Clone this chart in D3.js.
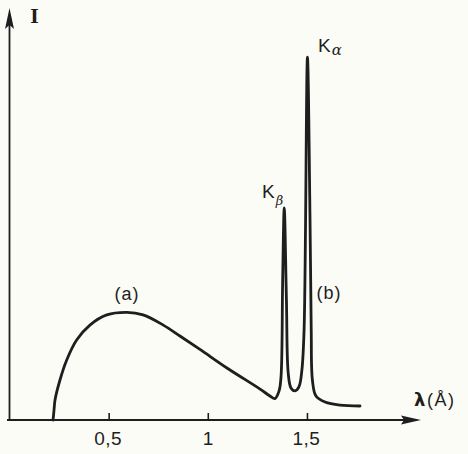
<!DOCTYPE html>
<html><head><meta charset="utf-8">
<script src="https://cdn.jsdelivr.net/npm/d3@7"></script>
<style>
html,body{margin:0;padding:0;background:#fcfcf7;}
svg{display:block;}
text{fill:#1e1e1e;}
</style></head>
<body>
<svg id="chart" width="468" height="454"></svg>
<script>
// wavelength (Å)
const lambda = [0.217,0.222,0.227,0.252,0.286,0.336,0.403,0.488,0.590,0.671,0.773,0.857,0.958,1.094,1.261,1.311,1.336,1.357,1.367,1.375,1.383,1.394,1.403,1.417,1.437,1.457,1.472,1.483,1.500,1.513,1.519,1.525,1.543,1.589,1.664,1.765];
// intensity (arbitrary units)
const intensity = [0,2.75,5.5,11,16.5,22,26.1,28.9,29.6,28.9,26.1,23.1,19.4,14.3,8.5,6.6,5.9,8.0,12.1,38.5,58.3,33.0,12.9,8.8,8.0,9.1,13.75,24.75,99.8,55,24.75,11,6.6,4.95,4.1,3.85];
const tickValues = [0.5, 1, 1.5];
const tickLabels = ["0,5", "1", "1,5"];

const svg = d3.select("#chart");
const x = d3.scaleLinear().domain([0, 2]).range([10, 406.6]);
const y = d3.scaleLinear().domain([0, 110]).range([420, 20]);
const ink = "#1e1e1e";

// x axis
svg.append("line").attr("x1", 7).attr("x2", 404).attr("y1", y(0)).attr("y2", y(0))
  .attr("stroke", ink).attr("stroke-width", 2);
svg.append("path").attr("d", "M421,420 L401,415.5 L404,420 L401,424.5 Z").attr("fill", ink);
// y axis
svg.append("line").attr("x1", 9.5).attr("x2", 9.5).attr("y1", 421).attr("y2", 24)
  .attr("stroke", ink).attr("stroke-width", 1.8);
svg.append("path").attr("d", "M9.5,8 L5,29 L9.5,25 L14,29 Z").attr("fill", ink);

// ticks
const g = svg.append("g");
tickValues.forEach((v, i) => {
  g.append("line").attr("x1", x(v)).attr("x2", x(v)).attr("y1", 413).attr("y2", 420)
    .attr("stroke", ink).attr("stroke-width", 1.6);
  g.append("text").attr("x", x(v) + (i === 1 ? 0 : -1)).attr("y", 445)
    .attr("text-anchor", "middle").attr("font-family", "Liberation Sans, Arial, sans-serif")
    .attr("font-size", 19).attr("letter-spacing", 0.5).text(tickLabels[i]);
});

// curve
const data = lambda.map((l, i) => [l, intensity[i]]);
const line = d3.line().x(d => x(d[0])).y(d => y(d[1])).curve(d3.curveCatmullRom.alpha(0.5));
svg.append("path").datum(data).attr("d", line).attr("fill", "none")
  .attr("stroke", ink).attr("stroke-width", 2.8).attr("stroke-linejoin", "round").attr("stroke-linecap", "round");

// labels
const sans = "Liberation Sans, Arial, sans-serif";
svg.append("text").attr("x", 34.5).attr("y", 23).attr("text-anchor", "middle")
  .attr("font-family", "DejaVu Serif, serif").attr("font-weight", "bold").attr("font-size", 18).text("I");
svg.append("text").attr("x", 127).attr("y", 300).attr("text-anchor", "middle")
  .attr("font-family", sans).attr("font-size", 18).attr("letter-spacing", 1).text("(a)");
svg.append("text").attr("x", 329).attr("y", 299).attr("text-anchor", "middle")
  .attr("font-family", sans).attr("font-size", 18).attr("letter-spacing", 1).text("(b)");
const kb = svg.append("text").attr("x", 262).attr("y", 198).attr("font-family", sans).attr("font-size", 19);
kb.append("tspan").text("K");
kb.append("tspan").attr("dy", 7).attr("dx", 1).attr("font-size", 13).attr("font-family", "DejaVu Serif, serif").attr("font-style", "italic").text("β");
const ka = svg.append("text").attr("x", 318).attr("y", 52).attr("font-family", sans).attr("font-size", 19);
ka.append("tspan").text("K");
ka.append("tspan").attr("dy", 3).attr("dx", 1).attr("font-size", 15).attr("font-family", "DejaVu Serif, serif").attr("font-style", "italic").text("α");
svg.append("text").attr("x", 414).attr("y", 406).attr("font-family", sans).attr("font-size", 18)
  .attr("letter-spacing", 1.5)
  .html('<tspan font-weight="bold" font-family="DejaVu Sans, sans-serif">λ</tspan>(Å)');
</script>
</body></html>
